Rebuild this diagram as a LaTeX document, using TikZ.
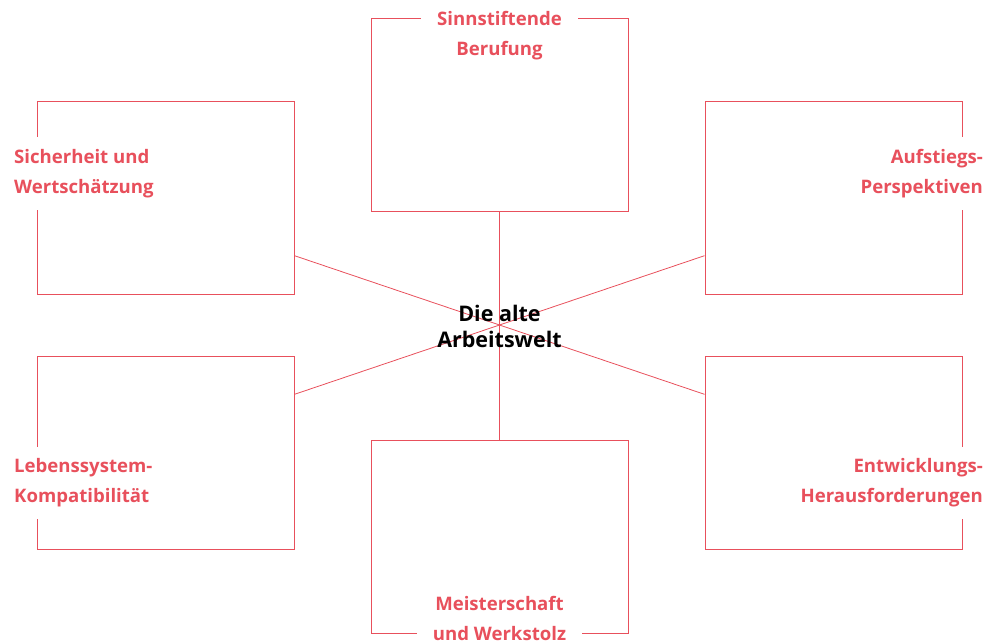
\documentclass[tikz,border=0pt]{standalone}
\usepackage{fontspec}
\setmainfont{Open Sans}
\usetikzlibrary{calc}
\definecolor{rot}{RGB}{232,80,92}
\begin{document}
\begin{tikzpicture}[x=1pt,y=-1pt,
  box/.style={draw=rot, line width=0.9pt, minimum width=257pt, minimum height=193pt, inner sep=0pt},
  conn/.style={draw=rot, line width=0.8pt},
  lbl/.style={fill=white, text=rot, font=\fontsize{18.6}{30}\selectfont\bfseries, inner xsep=0pt, inner ysep=12pt},
  center/.style={text=black, font=\fontsize{21.5}{26}\selectfont\bfseries, align=center, inner sep=0pt}]
\useasboundingbox (0,0) rectangle (986,643);
\node[box] (tc) at (499.5,114.5) {};
\node[box] (tl) at (165.5,197.5) {};
\node[box] (tr) at (833.5,197.5) {};
\node[box] (bl) at (165.5,452.5) {};
\node[box] (br) at (833.5,452.5) {};
\node[box] (bc) at (499.5,536.5) {};
\draw[conn] (tc.south) -- (bc.north);
\draw[conn] ($(tl.south east)!0.2!(tl.north east)$) -- ($(br.north west)!0.2!(br.south west)$);
\draw[conn] ($(tr.south west)!0.2!(tr.north west)$) -- ($(bl.north east)!0.2!(bl.south east)$);
\node[lbl, align=center, inner xsep=16pt, inner ysep=2pt] (ltc) at (499.5,35.5) {Sinnstiftende\\Berufung};
\node[lbl, align=left, anchor=west] (ltl) at (14,173.5) {Sicherheit und\\Wertschätzung};
\node[lbl, align=right, anchor=east] (ltr) at (983,173.5) {Aufstiegs-\\Perspektiven};
\node[lbl, align=left, anchor=west] (lbl) at (14,483) {Lebenssystem-\\Kompatibilität};
\node[lbl, align=right, anchor=east] (lbr) at (983,483) {Entwicklungs-\\Herausforderungen};
\node[lbl, align=center, inner xsep=16pt, inner ysep=2pt] (lbc) at (499.5,618) {Meisterschaft\\und Werkstolz};
\node[center] (c) at (499.5,326) {Die alte\\Arbeitswelt};
\end{tikzpicture}
\end{document}
